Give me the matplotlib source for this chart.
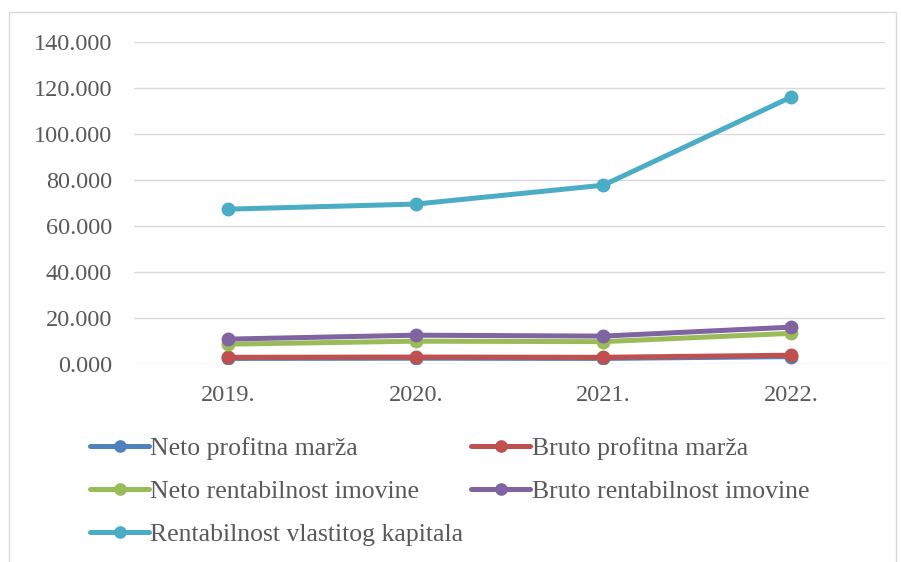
import matplotlib.pyplot as plt
from matplotlib.patches import Rectangle
from matplotlib.ticker import FuncFormatter

# data
years = ['2019.', '2020.', '2021.', '2022.']
neto_profitna = [2.5, 2.6, 2.5, 3.3]
bruto_profitna = [3.0, 3.1, 3.0, 3.9]
neto_rentab_imovine = [8.7, 10.0, 9.8, 13.4]
bruto_rentab_imovine = [10.9, 12.6, 12.2, 16.1]
rentab_kapitala = [67.4, 69.6, 77.8, 116.1]

labels = ['Neto profitna marža', 'Bruto profitna marža', 'Neto rentabilnost imovine',
          'Bruto rentabilnost imovine', 'Rentabilnost vlastitog kapitala']
colors = ['#4F81BD', '#C0504D', '#9BBB59', '#8064A2', '#4BACC6']
series = [neto_profitna, bruto_profitna, neto_rentab_imovine, bruto_rentab_imovine, rentab_kapitala]

plt.rcParams['font.family'] = ['Liberation Serif', 'DejaVu Serif']

fig = plt.figure(figsize=(9.01, 5.62), dpi=100)
ax = fig.add_axes([0.149, 0.352, 0.833, 0.573])

x = list(range(len(years)))
handles = []
for vals, c, lab in zip(series, colors, labels):
    h, = ax.plot(x, vals, color=c, lw=3.6, marker='o', markersize=9, label=lab,
                 solid_capstyle='round')
    handles.append(h)

ax.set_xlim(-0.5, len(years) - 0.5)
ax.set_ylim(0, 140)
ax.set_yticks(range(0, 141, 20))
ax.yaxis.set_major_formatter(FuncFormatter(lambda v, p: f'{v:.3f}'))
ax.set_xticks(x)
ax.set_xticklabels(years)
ax.grid(axis='y', color='#D9D9D9', lw=1)
ax.set_axisbelow(True)
for s in ax.spines.values():
    s.set_visible(False)
ax.tick_params(length=0, labelsize=17.5, colors='#595959', pad=16)
ax.tick_params(axis='x', pad=15)

order = [0, 2, 4, 1, 3]
leg = fig.legend([handles[i] for i in order], [labels[i] for i in order], ncol=2,
                 loc='upper left', bbox_to_anchor=(0.1, 0.222), frameon=False,
                 fontsize=18.5, handlelength=2.3, handletextpad=0.05, columnspacing=0.3,
                 labelspacing=0.78, borderaxespad=0, borderpad=0, markerscale=0.9)
for t in leg.get_texts():
    t.set_color('#595959')

fig.patches.append(Rectangle((0.01, -0.02), 0.984, 0.998, transform=fig.transFigure,
                             fill=False, edgecolor='#D9D9D9', lw=1))

fig.savefig('out.png', dpi=100)
